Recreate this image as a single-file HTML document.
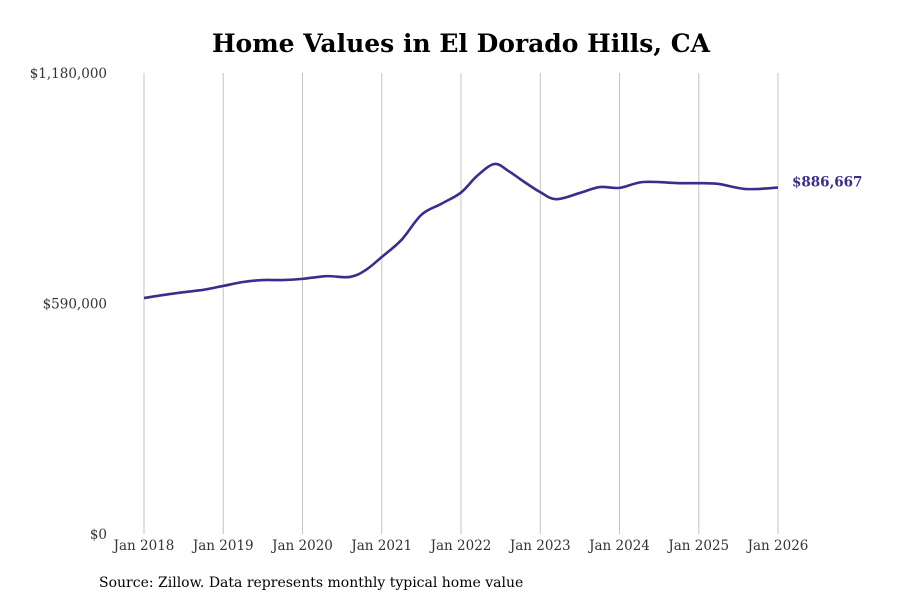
<!DOCTYPE html>
<html><head><meta charset="utf-8"><style>
body{margin:0;background:#fff;}
svg{display:block;font-family:"DejaVu Serif",serif;}
</style></head><body>
<svg id="chart" width="900" height="600">
<text x="461" y="52" text-anchor="middle" font-size="25" font-weight="bold" fill="#000">Home Values in El Dorado Hills, CA</text>
<g id="grid"></g><g id="yaxis"></g><g id="xaxis"></g><g id="series"></g>
<text x="99" y="587" font-size="14" fill="#000">Source: Zillow. Data represents monthly typical home value</text>
</svg>
<script>
const dates=[2018,2018.25,2018.5,2018.75,2019,2019.25,2019.5,2019.75,2020,2020.3,2020.6,2020.8,2021,2021.25,2021.5,2021.75,2022,2022.2,2022.42,2022.6,2022.8,2023,2023.2,2023.5,2023.75,2024,2024.3,2024.75,2025,2025.25,2025.6,2026];
const values=[604000,612000,619000,625000,635000,645000,650000,650000,653000,660000,658000,676000,709000,753000,817000,845000,874000,916000,947000,929000,901000,875000,857000,873000,888000,886000,901000,898000,898000,896000,883000,886667];
const yTicks=[0,590000,1180000];
const yTickLabels=["$0","$590,000","$1,180,000"];
const xTicks=[2018,2019,2020,2021,2022,2023,2024,2025,2026];
const xTickLabels=["Jan 2018","Jan 2019","Jan 2020","Jan 2021","Jan 2022","Jan 2023","Jan 2024","Jan 2025","Jan 2026"];
const endLabel="$886,667";
const NS="http://www.w3.org/2000/svg";
const xs=d=>144+(d-2018)*(778-144)/8;
const ys=v=>534-v*(534-73)/1180000;
function mk(tag,attrs,parent,text){const e=document.createElementNS(NS,tag);for(const k in attrs)e.setAttribute(k,attrs[k]);if(text!=null)e.textContent=text;parent.appendChild(e);return e;}
const grid=document.getElementById('grid'),ya=document.getElementById('yaxis'),xa=document.getElementById('xaxis'),se=document.getElementById('series');
xTicks.forEach((t,i)=>{
  const l=mk('line',{x1:xs(t),x2:xs(t),y1:73,y2:534,stroke:'#c4c4c4','stroke-width':1},grid);
  
  
  const tx=mk('text',{x:xs(t),y:550,'text-anchor':'middle','font-size':13.5,fill:'#333'},xa,xTickLabels[i]);
  
  
});
yTicks.forEach((t,i)=>{
  const tx=mk('text',{x:107,y:ys(t)+5,'text-anchor':'end','font-size':13.5,fill:'#333'},ya,yTickLabels[i]);
  
  
});
const P=dates.map((d,i)=>[xs(d),ys(values[i])]);
let d='M'+P[0][0]+','+P[0][1];
for(let i=0;i<P.length-1;i++){
  const p0=P[Math.max(0,i-1)],p1=P[i],p2=P[i+1],p3=P[Math.min(P.length-1,i+2)];
  const c1=[p1[0]+(p2[0]-p0[0])/6,p1[1]+(p2[1]-p0[1])/6],c2=[p2[0]-(p3[0]-p1[0])/6,p2[1]-(p3[1]-p1[1])/6];
  d+=` C${c1[0]},${c1[1]} ${c2[0]},${c2[1]} ${p2[0]},${p2[1]}`;
}
const path=mk('path',{d:d,fill:'none',stroke:'#3a2d8c','stroke-width':2.6},se);


const last=P[P.length-1];
const lb=mk('text',{x:792,y:last[1]-1,'font-size':13.5,'font-weight':'bold',fill:'#3a2d8c'},se,endLabel);


</script>
</body></html>
